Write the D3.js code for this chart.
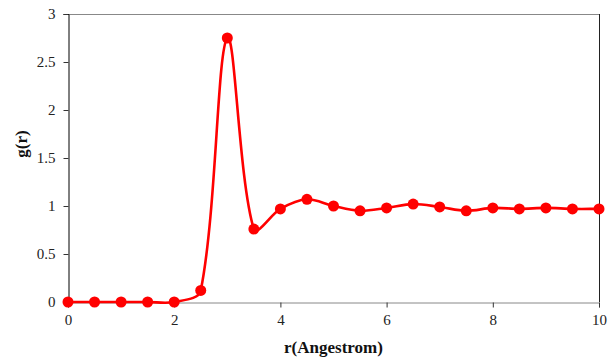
<!DOCTYPE html>
<html><head><meta charset="utf-8">
<script src="https://cdn.jsdelivr.net/npm/d3@7"></script>
<style>
body{margin:0;background:#fff;}
text{font-family:"Liberation Serif","Times New Roman",serif;}
</style></head>
<body><svg id="c" width="612" height="360"></svg>
<script>
const rValues = [0,0.5,1,1.5,2,2.5,3,3.5,4,4.5,5,5.5,6,6.5,7,7.5,8,8.5,9,9.5,10];
const gValues = [0,0,0,0,0,0.12,2.75,0.76,0.97,1.07,1.0,0.95,0.98,1.02,0.99,0.95,0.98,0.97,0.98,0.97,0.97];
const xTicks = [0,2,4,6,8,10];
const yTicks = [0,0.5,1,1.5,2,2.5,3];
const xTitle = "r(Angestrom)";
const yTitle = "g(r)";

// Excel-like smoothing curve factory for d3.line (arm lengths weighted by adjacent segment lengths)
function ExcelSmooth(context){ this._context = context; }
ExcelSmooth.prototype = {
  areaStart(){}, areaEnd(){},
  lineStart(){ this._pts = []; },
  point(x,y){ this._pts.push([+x,+y]); },
  lineEnd(){
    const p = this._pts, n = p.length, c = this._context, t = 1/3;
    if (!n) return;
    const dist = (a,b)=>Math.hypot(b[0]-a[0], b[1]-a[1]);
    const arms = p.map((pt,i)=>{
      const prev = p[Math.max(0,i-1)], next = p[Math.min(n-1,i+1)];
      const d0 = dist(prev,pt), d1 = dist(pt,next), s = d0+d1 || 1;
      const vx = next[0]-prev[0], vy = next[1]-prev[1];
      return {b:[pt[0]-vx*t*d0/s, pt[1]-vy*t*d0/s], f:[pt[0]+vx*t*d1/s, pt[1]+vy*t*d1/s]};
    });
    c.moveTo(p[0][0], p[0][1]);
    for (let i=1;i<n;i++){
      c.bezierCurveTo(arms[i-1].f[0], arms[i-1].f[1], arms[i].b[0], arms[i].b[1], p[i][0], p[i][1]);
    }
  }
};
const curveExcel = ctx => new ExcelSmooth(ctx);

const svg = d3.select("#c");
const L=68, R=599, T=14, B=302;
const x = d3.scaleLinear().domain([0,10]).range([L,R]);
const y = d3.scaleLinear().domain([0,3]).range([B,T]);

svg.append("line").attr("x1",L).attr("x2",R).attr("y1",T+0.5).attr("y2",T+0.5).attr("stroke","#888").attr("stroke-width",1);
svg.append("line").attr("x1",R+0.5).attr("x2",R+0.5).attr("y1",T).attr("y2",B).attr("stroke","#222").attr("stroke-width",1);

const xAxis = svg.append("g").attr("transform",`translate(0,${B+0.5})`)
  .call(d3.axisBottom(x).tickValues(xTicks).tickSize(5).tickPadding(7).tickFormat(d3.format("d")));
xAxis.select(".domain").attr("stroke","#888");
xAxis.selectAll(".tick line").attr("stroke","#333");
xAxis.selectAll("text").attr("font-size",15).attr("fill","#222");

const yAxis = svg.append("g").attr("transform",`translate(${L+0.5},0)`)
  .call(d3.axisLeft(y).tickValues(yTicks).tickSize(5).tickPadding(8).tickFormat(d=>String(d)));
yAxis.select(".domain").attr("stroke","#000");
yAxis.selectAll(".tick line").attr("stroke","#333");
yAxis.selectAll("text").attr("font-size",15).attr("fill","#222");

const pts = rValues.map((r,i)=>[r,gValues[i]]);
const line = d3.line().x(d=>x(d[0])).y(d=>y(d[1])).curve(curveExcel);
svg.append("path").datum(pts).attr("d",line).attr("fill","none").attr("stroke","#ff0000").attr("stroke-width",2.6);
svg.selectAll("circle.m").data(pts).enter().append("circle")
  .attr("cx",d=>x(d[0])).attr("cy",d=>y(d[1])).attr("r",5.5).attr("fill","#ff0000");

svg.append("text").attr("x",(L+R)/2).attr("y",353).attr("text-anchor","middle")
  .attr("font-size",17).attr("font-weight","bold").attr("fill","#111").text(xTitle);
svg.append("text").attr("transform","translate(27,144) rotate(-90)").attr("text-anchor","middle")
  .attr("font-size",17).attr("font-weight","bold").attr("fill","#111").text(yTitle);
</script></body></html>
